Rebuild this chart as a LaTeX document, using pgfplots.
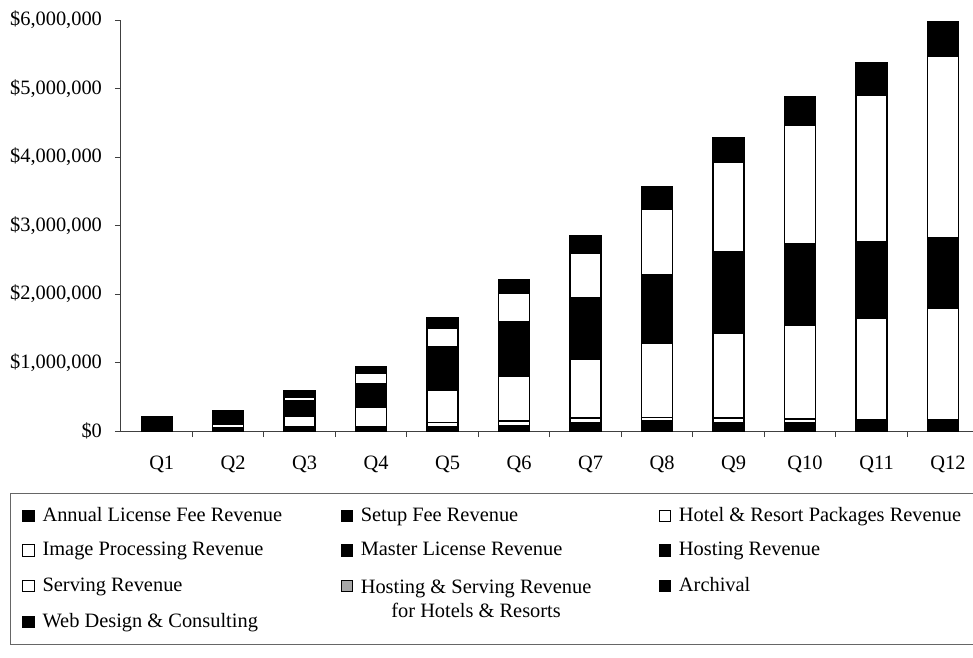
\documentclass[border=0pt]{standalone}
\usepackage{fontspec}
\setmainfont{Liberation Serif}
\usepackage{pgfplots}
\usepackage{pgfplotstable}
\pgfplotsset{compat=1.18}

\pgfplotstableread{
q A S H I M Ho Se HS Ar W
0 60000 150000 0 0 0 0 0 0 0 0
1 20000 30000 0 50000 180000 20000 0 0 0 0
2 20000 40000 0 150000 210000 30000 50000 0 60000 30000
3 25000 45000 0 280000 310000 40000 150000 0 60000 30000
4 25000 45000 60000 460000 580000 70000 260000 0 100000 60000
5 30000 50000 70000 650000 710000 90000 410000 0 120000 80000
6 40000 90000 60000 860000 800000 100000 650000 0 160000 100000
7 45000 105000 50000 1080000 890000 120000 950000 0 200000 130000
8 40000 80000 70000 1240000 1050000 140000 1310000 0 220000 140000
9 45000 85000 50000 1370000 1040000 150000 1730000 0 250000 160000
10 55000 105000 0 1490000 960000 160000 2140000 0 290000 180000
11 55000 105000 0 1630000 870000 170000 2640000 0 310000 200000
}\revdata

\newcommand{\lfont}{\fontsize{10.2}{12}\selectfont}

\begin{document}
\begin{tikzpicture}
\begin{axis}[
  scale only axis,
  width=426pt, height=205.5pt,
  ybar stacked, bar width=15.5pt,
  xmin=-0.5, xmax=11.42, ymin=0, ymax=6000000,
  enlargelimits=false,
  clip=false,
  scaled y ticks=false,
  axis x line*=bottom, axis y line*=left,
  axis line style={black!75, line width=0.5pt, -},
  tick align=outside,
  major tick length=3pt,
  tick style={black!75, line width=0.5pt},
  ytick={0,1000000,2000000,3000000,4000000,5000000,6000000},
  yticklabels={{\$0},{\$1,000,000},{\$2,000,000},{\$3,000,000},{\$4,000,000},{\$5,000,000},{\$6,000,000}},
  yticklabel style={xshift=-3pt},
  xtick={0.5,1.5,2.5,3.5,4.5,5.5,6.5,7.5,8.5,9.5,10.5},
  xticklabels={},
  extra x ticks={0,1,2,3,4,5,6,7,8,9,10,11},
  extra x tick labels={Q1,Q2,Q3,Q4,Q5,Q6,Q7,Q8,Q9,Q10,Q11,Q12},
  extra x tick style={major tick length=0pt, tick label style={yshift=-9pt, xshift=2.5pt}},
  tick label style={font=\lfont},
  every axis plot/.append style={draw=black, line width=0.7pt},
  legend columns=3,
  legend cell align=left,
  legend image code/.code={\draw[#1,line width=0.5pt] (0pt,-2.8pt) rectangle (5.6pt,2.8pt);},
  legend style={
    at={(-0.1303,-0.1509)}, anchor=north west,
    draw=black!60, line width=0.4pt,
    font=\lfont,
    inner xsep=6pt, inner ysep=7pt,
    row sep=8.75pt,
    nodes={inner sep=0pt},
    /tikz/every odd column/.append style={column sep=4pt},
  },
]
\addplot[fill=black] table[x=q,y=A]{\revdata};
\addlegendentry{\makebox[149pt][l]{Annual License Fee Revenue}}
\addplot[fill=black] table[x=q,y=S]{\revdata};
\addlegendentry{\makebox[149pt][l]{Setup Fee Revenue}}
\addplot[fill=white] table[x=q,y=H]{\revdata};
\addlegendentry{\makebox[146pt][l]{Hotel \& Resort Packages Revenue}}
\addplot[fill=white] table[x=q,y=I]{\revdata};
\addlegendentry{\makebox[149pt][l]{Image Processing Revenue}}
\addplot[fill=black] table[x=q,y=M]{\revdata};
\addlegendentry{\makebox[149pt][l]{Master License Revenue}}
\addplot[fill=black] table[x=q,y=Ho]{\revdata};
\addlegendentry{\makebox[146pt][l]{Hosting Revenue}}
\addplot[fill=white] table[x=q,y=Se]{\revdata};
\addlegendentry{\makebox[149pt][l]{Serving Revenue}}
\addplot[fill=black!35] table[x=q,y=HS]{\revdata};
\addlegendentry{\makebox[149pt][l]{\raisebox{0pt}[\height][3.75pt]{\begin{tabular}[t]{@{}c@{}}Hosting \& Serving Revenue\\for Hotels \& Resorts\end{tabular}}}}
\addplot[fill=black] table[x=q,y=Ar]{\revdata};
\addlegendentry{\makebox[146pt][l]{Archival}}
\addplot[fill=black] table[x=q,y=W]{\revdata};
\addlegendentry{\makebox[149pt][l]{\raisebox{0pt}[\height][14pt]{Web Design \& Consulting}}}
\coordinate (bbSW) at (rel axis cs:-0.142,-0.55);
\coordinate (bbNE) at (rel axis cs:1.0,1.049);
\end{axis}
\pgfresetboundingbox
\path (bbSW) rectangle (bbNE);
\end{tikzpicture}
\end{document}
